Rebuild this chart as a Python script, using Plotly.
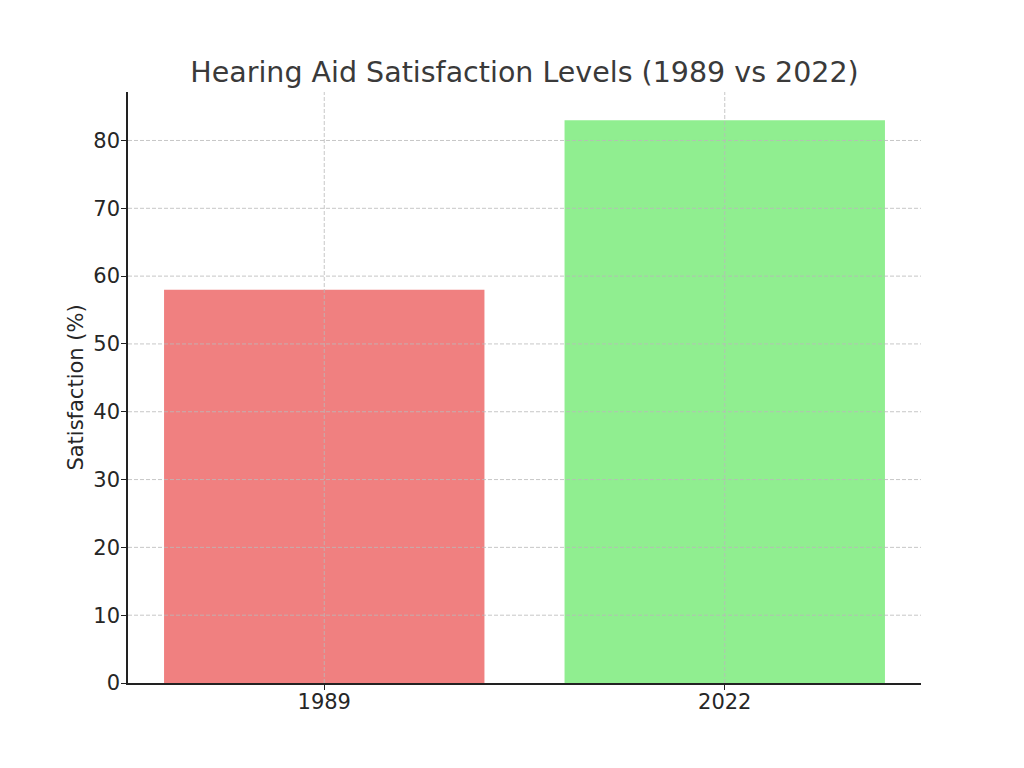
import plotly.graph_objects as go

years = ["1989", "2022"]
satisfaction = [58, 83]
bar_colors = ["#F08080", "#90EE90"]
y_ticks = [0, 10, 20, 30, 40, 50, 60, 70, 80]

x_pos = list(range(len(years)))

fig = go.Figure()
fig.add_trace(
    go.Bar(
        x=x_pos,
        y=satisfaction,
        marker=dict(color=bar_colors, line=dict(width=0)),
        width=0.8,
        customdata=years,
        hovertemplate="%{customdata}: %{y}<extra></extra>",
    )
)

# matplotlib-style dashed grid drawn on top of the bars
grid_line = dict(color="rgba(185,185,185,0.8)", width=1, dash="4px,2px")
for v in y_ticks[1:]:
    fig.add_hline(y=v, line=grid_line, layer="above")
for p in x_pos:
    fig.add_vline(x=p, line=grid_line, layer="above")

axis_font = dict(family="DejaVu Sans", size=21, color="#262626")

# page body has an 8px margin, so everything is shifted by 8px
fig.update_layout(
    width=1024,
    height=768,
    margin=dict(l=120, r=111, t=84, b=93),
    paper_bgcolor="white",
    plot_bgcolor="white",
    showlegend=False,
    title=dict(
        text="Hearing Aid Satisfaction Levels (1989 vs 2022)",
        x=(524.5 - 8) / 1024,
        xanchor="center",
        y=1 - 64 / 768,
        yanchor="middle",
        font=dict(family="DejaVu Sans", size=28.5, color="#3a3a3a"),
    ),
)

fig.update_xaxes(
    range=[-0.49, 1.49],
    tickvals=x_pos,
    ticktext=years,
    showline=True,
    linecolor="#222222",
    linewidth=1.5,
    ticks="outside",
    ticklen=5,
    tickcolor="#222222",
    tickfont=axis_font,
    ticklabelstandoff=-6,
    showgrid=False,
    zeroline=False,
    layer="above traces",
)

fig.update_yaxes(
    range=[0, 87.15],
    tickvals=y_ticks,
    showline=True,
    linecolor="#222222",
    linewidth=1.5,
    ticks="outside",
    ticklen=5,
    tickcolor="#222222",
    tickfont=axis_font,
    ticklabelstandoff=-3,
    title=dict(text="Satisfaction (%)", font=axis_font, standoff=4),
    showgrid=False,
    zeroline=False,
    layer="above traces",
)

fig.write_html("out.html")
